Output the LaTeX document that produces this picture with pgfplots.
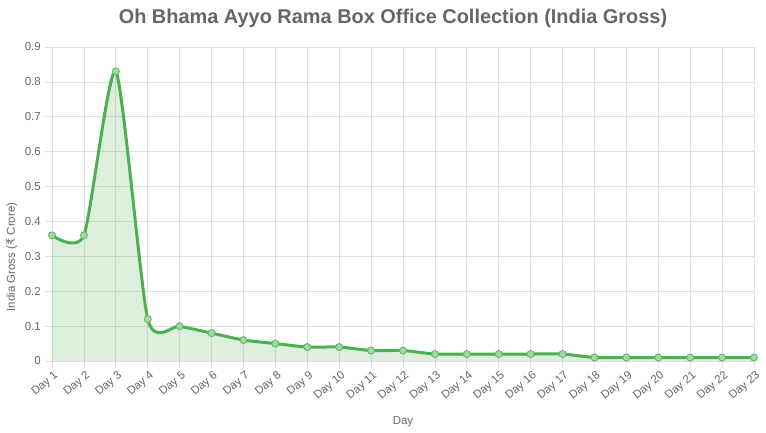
\documentclass[border=0pt]{standalone}
\usepackage{pgfplots}
\pgfplotsset{compat=1.18}
\usepackage{fontspec}
\setmainfont{Liberation Sans}
\newfontfamily\rupee{DejaVu Sans}
\definecolor{lgreen}{RGB}{76,175,80}
\definecolor{tgray}{RGB}{102,102,102}
\definecolor{ggray}{RGB}{225,225,225}
\begin{document}
\begin{tikzpicture}[x=1bp,y=1bp]
\begin{axis}[
  at={(0,0)}, anchor=south west,
  scale only axis, width=702bp, height=314bp,
  xmin=1, xmax=23, ymin=0, ymax=0.9,
  xtick={1,...,23},
  xticklabels={Day 1,Day 2,Day 3,Day 4,Day 5,Day 6,Day 7,Day 8,Day 9,Day 10,Day 11,Day 12,Day 13,Day 14,Day 15,Day 16,Day 17,Day 18,Day 19,Day 20,Day 21,Day 22,Day 23},
  ytick={0,0.1,...,0.9},
  yticklabels={0,0.1,0.2,0.3,0.4,0.5,0.6,0.7,0.8,0.9},
  xticklabel style={rotate=40, anchor=north east, font=\fontsize{11.5}{12}\selectfont, text=tgray, inner sep=0.5pt, yshift=-2bp},
  yticklabel style={font=\fontsize{11.5}{12}\selectfont, text=tgray, inner sep=1pt, xshift=-3bp},
  grid=major, major grid style={ggray, line width=0.7bp},
  axis line style={ggray, line width=0.9bp},
  tick style={ggray, line width=0.7bp},
  major tick length=7bp, tick align=outside,
  xtick pos=bottom, ytick pos=left,
  clip=false,
]
\addplot[draw=none, fill=lgreen, fill opacity=0.2, smooth, tension=0.38] coordinates {
(1,0.36) (2,0.36) (3,0.83) (4,0.12) (5,0.10) (6,0.08) (7,0.06) (8,0.05) (9,0.04) (10,0.04) (11,0.03) (12,0.03) (13,0.02) (14,0.02) (15,0.02) (16,0.02) (17,0.02) (18,0.01) (19,0.01) (20,0.01) (21,0.01) (22,0.01) (23,0.01)
} \closedcycle;
\addplot[lgreen, line width=3bp, smooth, tension=0.38, mark=*, mark size=3.5bp, mark options={fill=lgreen!50, draw=lgreen!85, line width=1bp}] coordinates {
(1,0.36) (2,0.36) (3,0.83) (4,0.12) (5,0.10) (6,0.08) (7,0.06) (8,0.05) (9,0.04) (10,0.04) (11,0.03) (12,0.03) (13,0.02) (14,0.02) (15,0.02) (16,0.02) (17,0.02) (18,0.01) (19,0.01) (20,0.01) (21,0.01) (22,0.01) (23,0.01)
};
\end{axis}
\node[text=tgray, font=\bfseries\fontsize{20}{22}\selectfont] at (341bp,343bp) {Oh Bhama Ayyo Rama Box Office Collection (India Gross)};
\node[text=tgray, font=\fontsize{11.5}{12}\selectfont] at (351bp,-61bp) {Day};
\node[text=tgray, font=\fontsize{11.5}{12}\selectfont, rotate=90] at (-40bp,104bp) {India Gross ({\rupee ₹} Crore)};
\path[use as bounding box] (-52bp,-72bp) rectangle (714bp,361bp);
\end{tikzpicture}
\end{document}
